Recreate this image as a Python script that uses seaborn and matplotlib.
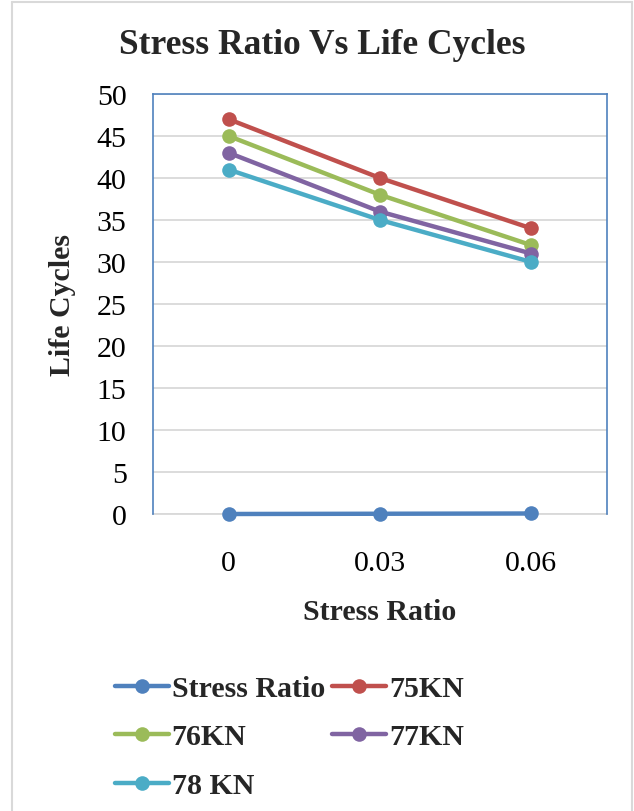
import matplotlib
matplotlib.use("Agg")
import matplotlib.pyplot as plt
import seaborn as sns
import pandas as pd
from matplotlib.lines import Line2D

categories = ["0", "0.03", "0.06"]
series_names = ["Stress Ratio", "75KN", "76KN", "77KN", "78 KN"]
stress_ratio = [0, 0.03, 0.06]
kn75 = [47, 40, 34]
kn76 = [45, 38, 32]
kn77 = [43, 36, 31]
kn78 = [41, 35, 30]
colors = ["#4F81BD", "#C0504D", "#9BBB59", "#8064A2", "#4BACC6"]

rows = []
for name, vals in zip(series_names, [stress_ratio, kn75, kn76, kn77, kn78]):
    for c, v in zip(categories, vals):
        rows.append({"cat": c, "val": v, "series": name})
df = pd.DataFrame(rows)

sns.set_style("white")
plt.rcParams["font.family"] = ["Liberation Serif", "DejaVu Serif"]

FS = 21.5
L, R, T, B = 153, 607, 95, 515
fig = plt.figure(figsize=(6.34, 8.12), dpi=100)
ax = fig.add_axes([L/634, 1-B/812, (R-L)/634, (B-T)/812])

sns.lineplot(data=df, x="cat", y="val", hue="series", hue_order=series_names,
             palette=colors, marker="o", markersize=10.5, markeredgewidth=0,
             linewidth=3.2, ax=ax, sort=False)
for ln in ax.get_lines():
    ln.set_clip_on(False)
    ln.set_zorder(5)

ax.set_xlim(-0.5, 2.5)
ax.set_ylim(0, 50)
ax.set_yticks(range(0, 51, 5))
ax.yaxis.grid(True, color="#D9D9D9", linewidth=1.3)
ax.set_axisbelow(True)
ax.tick_params(axis="both", length=0, labelsize=FS, colors="black")
ax.tick_params(axis="y", pad=19)
ax.tick_params(axis="x", pad=26)
for s in ["top", "left", "right"]:
    ax.spines[s].set_color("#4F81BD")
    ax.spines[s].set_linewidth(1.2)
ax.spines["bottom"].set_color("#D9D9D9")
ax.spines["bottom"].set_linewidth(1.3)
ax.spines["bottom"].set_zorder(1)

ax.set_xlabel("Stress Ratio", fontsize=FS, fontweight="bold")
ax.set_ylabel("Life Cycles", fontsize=FS, fontweight="bold")
ax.xaxis.label.set_va("center")
ax.yaxis.label.set_va("center")
ax.yaxis.label.set_ha("center")
ax.xaxis.set_label_coords((380-L)/(R-L), (B-613)/(B-T))
ax.yaxis.set_label_coords((62-L)/(R-L), 0.5)

fig.text(322.5/634, 1-54/812, "Stress Ratio Vs Life Cycles", ha="center", va="baseline",
         fontsize=25.5, fontweight="bold")

handles, labels = ax.get_legend_handles_labels()
ax.get_legend().remove()
order = [0, 2, 4, 1, 3]
leg = fig.legend([handles[i] for i in order], [labels[i] for i in order],
                 ncol=2, loc="upper left", bbox_to_anchor=(115/634, 1-676/812),
                 frameon=False, prop={"family": ["Liberation Serif"], "weight": "bold", "size": FS},
                 handlelength=1.8, handletextpad=0.1, columnspacing=0.25,
                 labelspacing=0.72, borderaxespad=0, borderpad=0)

gray = "#D9D9D9"
fig.add_artist(Line2D([12/634, 12/634], [0, 1-3/812], transform=fig.transFigure, color=gray, lw=1.5))
fig.add_artist(Line2D([632/634, 632/634], [0, 1-3/812], transform=fig.transFigure, color=gray, lw=1.5))
fig.add_artist(Line2D([12/634, 632/634], [1-3/812, 1-3/812], transform=fig.transFigure, color=gray, lw=1.5))

fig.savefig("out.png", dpi=100)
